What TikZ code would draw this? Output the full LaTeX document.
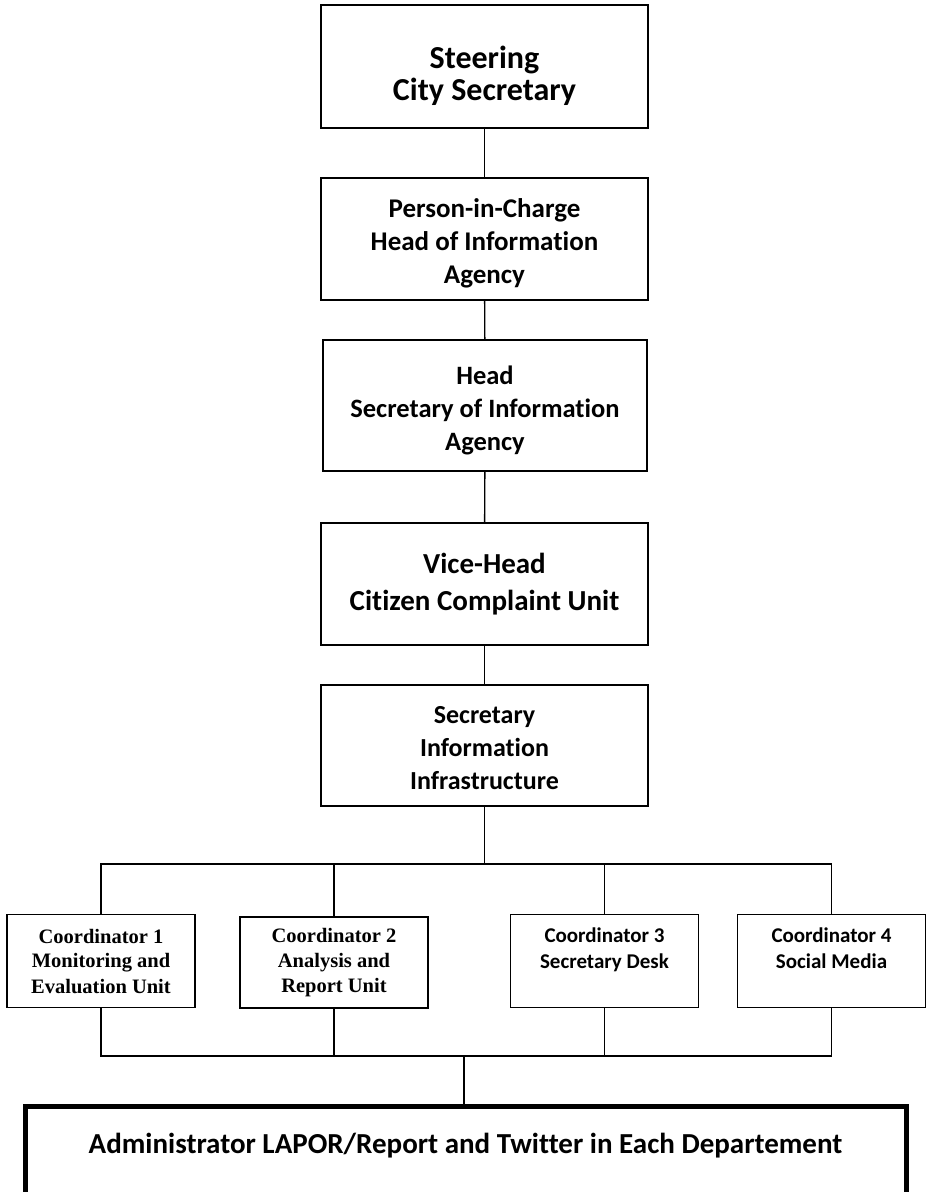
\documentclass[tikz,border=0pt]{standalone}
\usepackage{fontspec}
\setmainfont{Carlito}[Ligatures=CommonOff]
\newfontfamily\timesb{Liberation Serif}[Ligatures=CommonOff]
\begin{document}
\begin{tikzpicture}[x=1pt,y=-1pt,
  mainbox/.style={draw,line width=1.8pt,inner sep=0pt},
  boxtext/.style={align=center,inner sep=0pt,font=\bfseries},
  coordbox/.style={draw,line width=1.8pt,align=center,inner sep=0pt,minimum width=188pt,minimum height=93pt},
  conn/.style={line width=1.4pt},
  thickconn/.style={line width=2.6pt}]
\useasboundingbox (0,0) rectangle (926,1192);
\clip (0,0) rectangle (926,1192);
% main chain
\node[mainbox,minimum width=327pt,minimum height=123pt] (b1) at (484.5,66.5) {};
\node[boxtext,font=\bfseries\fontsize{32}{32}\selectfont] (b1t) at ([yshift=-9pt]b1.center) {Steering\\City Secretary};
\node[mainbox,minimum width=327pt,minimum height=122pt] (b2) at (484.5,239) {};
\node[boxtext,font=\bfseries\fontsize{27}{33}\selectfont] (b2t) at ([yshift=-4pt]b2.center) {Person-in-Charge\\Head of Information\\Agency};
\node[mainbox,minimum width=324pt,minimum height=131pt] (b3) at (485,405.5) {};
\node[boxtext,font=\bfseries\fontsize{26.5}{33}\selectfont] (b3t) at ([yshift=-5pt]b3.center) {Head\\Secretary of Information\\Agency};
\node[mainbox,minimum width=327pt,minimum height=122pt] (b4) at (484.5,584) {};
\node[boxtext,font=\bfseries\fontsize{29}{37}\selectfont] (b4t) at (b4.center) {Vice-Head\\Citizen Complaint Unit};
\node[mainbox,minimum width=327pt,minimum height=121pt] (b5) at (484.5,745.5) {};
\node[boxtext,font=\bfseries\fontsize{26}{33}\selectfont] (b5t) at ([yshift=-3pt]b5.center) {Secretary\\Information\\Infrastructure};
% coordinators
\node[coordbox,font=\timesb\bfseries\fontsize{20.5}{25}\selectfont] (c1) at (101,961) {Coordinator 1\\Monitoring and\\Evaluation Unit};
\node[coordbox,minimum height=91pt,font=\timesb\bfseries\fontsize{20.5}{25}\selectfont] (c2) at (334,962.5) {Coordinator 2\\Analysis and\\Report Unit};
\node[coordbox,font=\bfseries\fontsize{21}{26}\selectfont] (c3) at (604.5,961) {Coordinator 3\\Secretary Desk\\\mbox{}};
\node[coordbox,font=\bfseries\fontsize{21}{26}\selectfont] (c4) at (831.5,961) {Coordinator 4\\Social Media\\\mbox{}};
% bottom box
\node[draw,line width=5pt,minimum width=881pt,minimum height=110pt,inner sep=0pt,anchor=north,font=\bfseries\fontsize{29}{35}\selectfont,text depth=36pt] (bot) at (465.5,1104) {Administrator LAPOR/Report and Twitter in Each Departement};
% connectors
\coordinate (hub1) at (484.5,864);
\coordinate (hub2) at (464,1056);
\draw[conn] (b1) -- (b2);
\draw[conn] (b2) -- (b3);
\draw[conn] (b3) -- (b4);
\draw[conn] (b4) -- (b5);
\draw[conn] (b5) -- (hub1);
\draw[conn] (c1.north) |- (hub1);
\draw[conn] (c4.north) |- (hub1);
\draw[conn] (c2.north) -- (c2.north |- hub1);
\draw[conn] (c3.north) -- (c3.north |- hub1);
\draw[conn] (c1.south) |- (hub2);
\draw[conn] (c4.south) |- (hub2);
\draw[conn] (c2.south) -- (c2.south |- hub2);
\draw[conn] (c3.south) -- (c3.south |- hub2);
\draw[thickconn] (hub2) -- (hub2 |- bot.north);
\end{tikzpicture}
\end{document}
